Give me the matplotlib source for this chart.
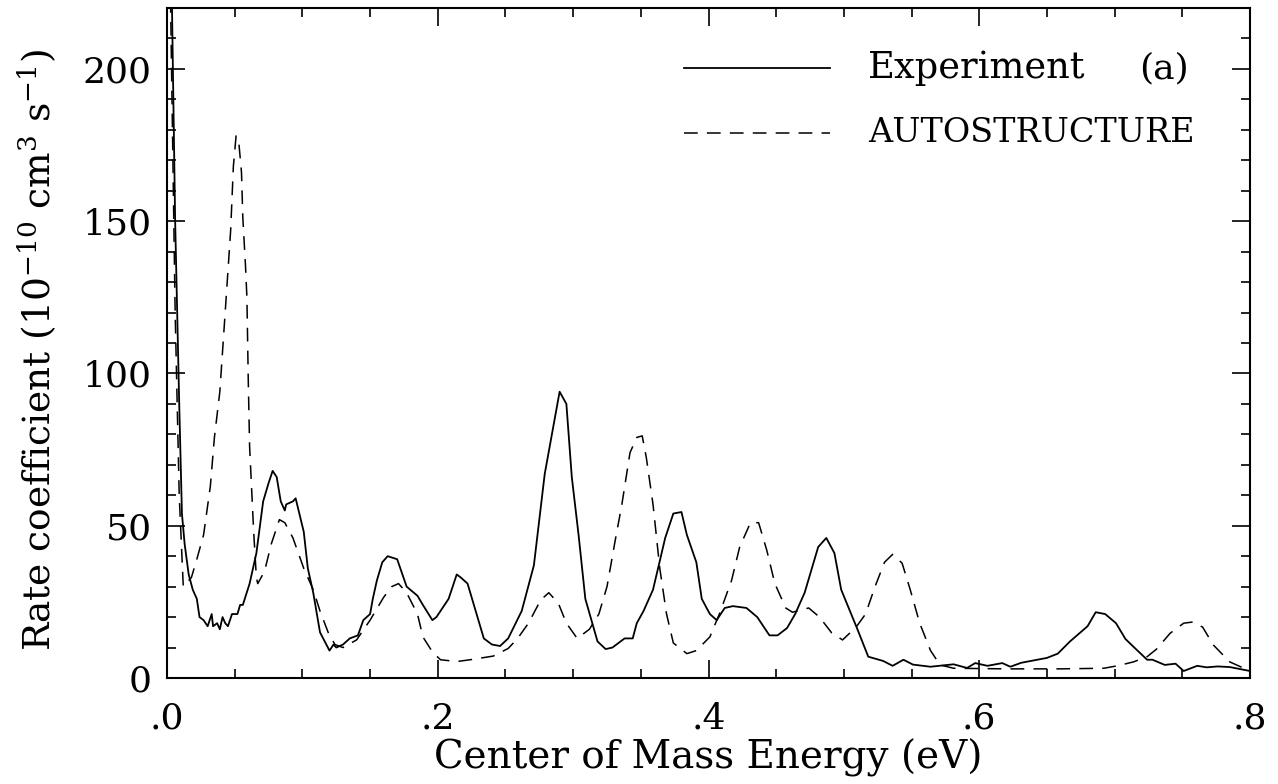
import matplotlib
matplotlib.use("Agg")
import matplotlib.pyplot as plt
from matplotlib.ticker import MultipleLocator, FuncFormatter

# Experiment (solid)
exp_energy = [0.003, 0.006, 0.009, 0.011, 0.013, 0.016, 0.019, 0.022, 0.024, 0.027,
              0.030, 0.033, 0.034, 0.037, 0.039, 0.041, 0.043, 0.045, 0.048, 0.052,
              0.054, 0.056, 0.061, 0.066, 0.071, 0.075, 0.078, 0.081, 0.084, 0.087,
              0.088, 0.093, 0.095, 0.101, 0.104, 0.108, 0.113, 0.120, 0.123, 0.125,
              0.130, 0.135, 0.141, 0.145, 0.150, 0.152, 0.155, 0.159, 0.163, 0.170,
              0.177, 0.185, 0.189, 0.196, 0.199, 0.208, 0.214, 0.217, 0.222, 0.234,
              0.240, 0.246, 0.252, 0.262, 0.271, 0.279, 0.290, 0.295, 0.299, 0.304,
              0.309, 0.318, 0.324, 0.329, 0.338, 0.344, 0.347, 0.352, 0.359, 0.368,
              0.374, 0.380, 0.384, 0.391, 0.395, 0.401, 0.406, 0.412, 0.418, 0.428,
              0.436, 0.445, 0.451, 0.458, 0.464, 0.471, 0.481, 0.487, 0.493, 0.498,
              0.510, 0.518, 0.529, 0.536, 0.544, 0.551, 0.564, 0.581, 0.591, 0.597,
              0.606, 0.617, 0.623, 0.631, 0.650, 0.658, 0.667, 0.680, 0.686, 0.693,
              0.701, 0.708, 0.715, 0.724, 0.728, 0.737, 0.745, 0.751, 0.761, 0.768,
              0.776, 0.785, 0.800]
exp_rate = [240, 150, 90, 54, 44, 34, 29, 26, 20, 19,
            17, 21, 17, 18, 16, 20, 18, 17, 21, 21,
            24, 24, 31, 41, 58, 64, 68, 66, 58, 55,
            57, 58, 59, 48, 36, 28, 15, 9, 11, 10,
            11, 13, 14, 19, 21, 26, 32, 38, 40, 39,
            30, 27, 24, 19, 20, 26, 34, 33, 31, 13,
            11, 10.5, 13, 22, 37, 67, 94, 90, 66, 47,
            26, 12, 9.5, 10, 13, 13, 18, 22, 29, 46,
            54, 54.5, 47, 38, 26, 21, 19, 23, 23.6, 23,
            20, 14, 14, 16.4, 21, 28, 43, 46, 41, 29,
            16, 7, 5.6, 4, 6, 4.4, 3.7, 4.5, 3.3, 4.9,
            4, 4.9, 3.7, 5, 6.6, 8, 12, 17, 21.6, 21,
            18, 12.8, 9.8, 6, 6, 4.3, 4.7, 2.3, 4, 3.5,
            3.8, 3.6, 2.3]

# AUTOSTRUCTURE (dashed)
theo_energy = [0.002, 0.006, 0.009, 0.012, 0.018, 0.022, 0.027, 0.032, 0.035, 0.039,
               0.044, 0.047, 0.049, 0.051, 0.053, 0.055, 0.056, 0.058, 0.059, 0.060,
               0.061, 0.064, 0.066, 0.067, 0.072, 0.077, 0.083, 0.087, 0.093, 0.101,
               0.108, 0.113, 0.119, 0.124, 0.130, 0.140, 0.150, 0.160, 0.166, 0.171,
               0.177, 0.185, 0.189, 0.196, 0.202, 0.214, 0.224, 0.241, 0.252, 0.259,
               0.267, 0.276, 0.282, 0.289, 0.295, 0.303, 0.312, 0.319, 0.325, 0.331,
               0.336, 0.342, 0.347, 0.351, 0.354, 0.359, 0.364, 0.369, 0.374, 0.384,
               0.391, 0.401, 0.408, 0.417, 0.423, 0.431, 0.437, 0.443, 0.449, 0.457,
               0.462, 0.474, 0.482, 0.491, 0.499, 0.509, 0.516, 0.523, 0.530, 0.536,
               0.543, 0.549, 0.556, 0.564, 0.571, 0.581, 0.620, 0.660, 0.692, 0.702,
               0.714, 0.724, 0.731, 0.741, 0.751, 0.758, 0.765, 0.773, 0.785, 0.800]
theo_rate = [240, 120, 60, 30, 33, 39, 47, 63, 79, 94,
             127, 147, 168, 178, 176, 166, 151, 135, 125, 98,
             76, 48, 33, 31, 35, 44, 52, 51, 46, 36,
             29, 22, 15, 11, 10, 12.5, 19, 26.5, 30, 31,
             28, 21, 13.5, 8.6, 6, 5.4, 6, 7.2, 9.7, 13,
             18, 25.6, 28, 24.6, 18, 13, 16, 21, 30, 45,
             57, 74, 79, 79.5, 72.5, 57, 36, 21, 11.5, 8,
             9, 13.5, 21, 32, 43, 51, 51, 42, 31, 23,
             21.6, 23, 20, 14.8, 12.5, 16.7, 21, 30, 38, 40.6,
             37.7, 29, 18, 9, 4.3, 3.2, 3.0, 3.0, 3.2, 4,
             5.3, 7, 9.5, 14.7, 18, 18.4, 16.7, 10.8, 5.3, 2.3]

plt.rcParams["font.family"] = ["DejaVu Serif"]
plt.rcParams["mathtext.fontset"] = "dejavuserif"

fig = plt.figure(figsize=(12.78, 7.84), dpi=100)
ax = fig.add_axes([0.1307, 0.1352, 0.8474, 0.8546])

dash = (0, (9, 6))
ax.plot(exp_energy, exp_rate, color="black", lw=1.3)
ax.plot(theo_energy, theo_rate, color="black", lw=1.1, linestyle=dash)

ax.set_xlim(0, 0.8)
ax.set_ylim(0, 220)

ax.xaxis.set_major_locator(MultipleLocator(0.2))
ax.xaxis.set_minor_locator(MultipleLocator(0.05))
ax.yaxis.set_major_locator(MultipleLocator(50))
ax.yaxis.set_minor_locator(MultipleLocator(10))
ax.xaxis.set_major_formatter(FuncFormatter(lambda v, p: ("%.1f" % v).lstrip("0")))

ax.tick_params(which="both", direction="in", top=True, right=True,
               labelsize=26, width=1.2, colors="black")
ax.tick_params(which="major", length=13)
ax.tick_params(which="minor", length=6.5)
ax.tick_params(axis="x", which="major", pad=17)
ax.tick_params(axis="y", which="major", pad=11)
for s in ax.spines.values():
    s.set_linewidth(1.5)

ax.set_xlabel("Center of Mass Energy (eV)", fontsize=28)
ax.set_ylabel(r"Rate coefficient (10$^{-10}$ cm$^3$ s$^{-1}$)", fontsize=27)
ax.xaxis.set_label_coords(0.5, -0.09)
ax.yaxis.set_label_coords(-0.10, 0.49)

# legend drawn by hand like the original
ax.plot([0.477, 0.612], [0.91, 0.91], transform=ax.transAxes, color="black", lw=1.3)
ax.plot([0.477, 0.612], [0.813, 0.813], transform=ax.transAxes, color="black",
        lw=1.1, linestyle=dash)
ax.text(0.647, 0.91, "Experiment", transform=ax.transAxes, fontsize=26.5,
        va="center", ha="left")
ax.text(0.898, 0.91, "(a)", transform=ax.transAxes, fontsize=26,
        va="center", ha="left")
ax.text(0.647, 0.813, "AUTOSTRUCTURE", transform=ax.transAxes, fontsize=24,
        va="center", ha="left")

fig.savefig("out.png", dpi=100)
